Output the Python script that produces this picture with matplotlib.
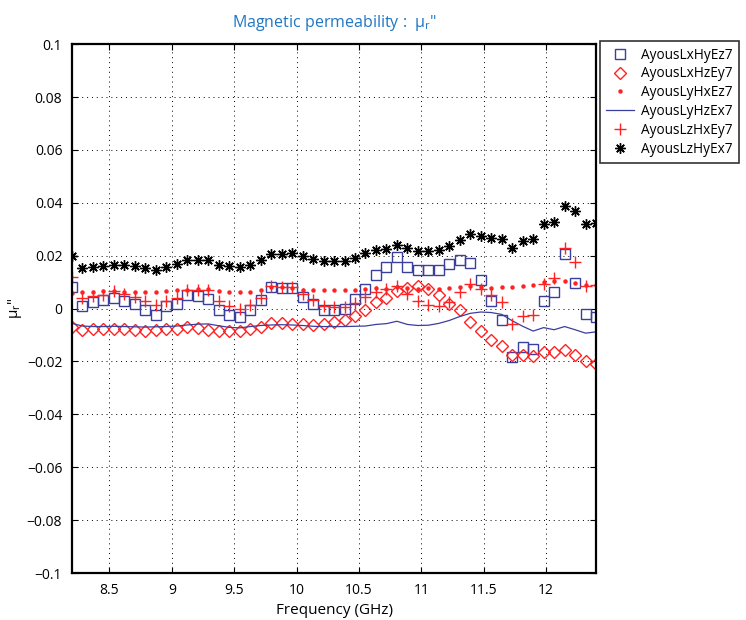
import matplotlib
matplotlib.use("Agg")
import matplotlib.pyplot as plt

freq = [8.2, 8.284, 8.368, 8.452, 8.536, 8.62, 8.704, 8.788, 8.872, 8.956, 9.04, 9.124,
        9.208, 9.292, 9.376, 9.46, 9.544, 9.628, 9.712, 9.796, 9.88, 9.964, 10.048, 10.132,
        10.216, 10.3, 10.384, 10.468, 10.552, 10.636, 10.72, 10.804, 10.888, 10.972, 11.056,
        11.14, 11.224, 11.308, 11.392, 11.476, 11.56, 11.644, 11.728, 11.812, 11.896, 11.98,
        12.064, 12.148, 12.232, 12.316, 12.4]

lxhyez = [0.0081, 0.001, 0.0024, 0.0034, 0.004, 0.003, 0.0016, -0.0005, -0.0023, 0.0008,
          0.0018, 0.0052, 0.0047, 0.0037, -0.0004, -0.0023, -0.0033, -0.0004, 0.0034, 0.0083,
          0.0078, 0.0078, 0.0043, 0.0018, -0.0004, -0.0005, -0.0003, 0.0035, 0.0073, 0.0126,
          0.0157, 0.0194, 0.0159, 0.0147, 0.0147, 0.0147, 0.0169, 0.0183, 0.0174, 0.0107,
          0.0028, -0.0043, -0.0184, -0.0144, -0.0152, 0.0028, 0.0062, 0.0205, 0.0097, -0.002,
          -0.003]

lxhzey = [-0.0071, -0.0082, -0.0079, -0.0076, -0.0078, -0.0079, -0.0081, -0.0083, -0.008,
          -0.0079, -0.0076, -0.0068, -0.0074, -0.008, -0.0085, -0.0083, -0.0083, -0.0076,
          -0.0068, -0.0055, -0.0055, -0.0057, -0.006, -0.0062, -0.0058, -0.0051, -0.0045,
          -0.0027, -0.0005, 0.0023, 0.004, 0.0068, 0.0076, 0.0086, 0.0073, 0.0053, 0.0019,
          -0.0007, -0.0052, -0.0085, -0.0118, -0.0143, -0.0175, -0.0174, -0.018, -0.0163,
          -0.0165, -0.0157, -0.0175, -0.0197, -0.021]

lyhxez = [0.006, 0.0062, 0.0064, 0.0066, 0.0068, 0.0064, 0.0064, 0.0061, 0.0061, 0.0066,
          0.0071, 0.0072, 0.0073, 0.0073, 0.0068, 0.0062, 0.0062, 0.0064, 0.0071, 0.0083,
          0.008, 0.0078, 0.0072, 0.0072, 0.0069, 0.0069, 0.0069, 0.0072, 0.0074, 0.0078,
          0.0075, 0.0083, 0.0078, 0.0073, 0.0077, 0.0075, 0.0076, 0.008, 0.0085, 0.0082,
          0.0079, 0.0083, 0.0083, 0.0087, 0.009, 0.0099, 0.0104, 0.0106, 0.0095, 0.0088,
          0.009]

lyhzex = [-0.0056, -0.0066, -0.0068, -0.0068, -0.0067, -0.0068, -0.0069, -0.007, -0.0069,
          -0.0068, -0.0066, -0.0062, -0.0059, -0.0058, -0.0065, -0.0071, -0.0073, -0.0068,
          -0.0064, -0.0062, -0.0061, -0.0062, -0.0064, -0.0067, -0.0068, -0.0068, -0.0068,
          -0.0067, -0.0066, -0.006, -0.0057, -0.0048, -0.006, -0.0064, -0.0063, -0.0056,
          -0.0045, -0.003, -0.0018, -0.0013, -0.0015, -0.0022, -0.0046, -0.0067, -0.0085,
          -0.0072, -0.008, -0.0068, -0.008, -0.0093, -0.0088]

lzhxey = [0.0119, 0.004, 0.0049, 0.0052, 0.0066, 0.0056, 0.0045, 0.0028, 0.0015, 0.003,
          0.004, 0.0071, 0.0071, 0.007, 0.0028, 0.001, 0.0, 0.0013, 0.004, 0.0085, 0.0083,
          0.0082, 0.0056, 0.0033, 0.0011, 0.0007, 0.0005, 0.002, 0.0043, 0.0062, 0.0074,
          0.0087, 0.0056, 0.0028, 0.0015, 0.0011, 0.0025, 0.0064, 0.0093, 0.0075, 0.005,
          0.0025, -0.006, -0.0027, -0.0023, 0.0093, 0.0114, 0.0228, 0.0175, 0.0085, 0.0089]

lzhyex = [0.0197, 0.0154, 0.0159, 0.016, 0.0164, 0.0164, 0.016, 0.0153, 0.0144, 0.0158,
          0.0168, 0.0182, 0.0182, 0.0182, 0.0163, 0.016, 0.0157, 0.0165, 0.0182, 0.0208,
          0.0208, 0.0212, 0.0197, 0.0186, 0.018, 0.018, 0.0179, 0.0192, 0.0212, 0.0223,
          0.0226, 0.0241, 0.0228, 0.0218, 0.0218, 0.0221, 0.0235, 0.0258, 0.0283, 0.0273,
          0.0266, 0.0264, 0.023, 0.0255, 0.0263, 0.032, 0.0327, 0.0389, 0.0369, 0.0318,
          0.0324]

labels = ["AyousLxHyEz7", "AyousLxHzEy7", "AyousLyHxEz7", "AyousLyHzEx7",
          "AyousLzHxEy7", "AyousLzHyEx7"]
xticks = [8.5, 9, 9.5, 10, 10.5, 11, 11.5, 12]
xticklabels = ["8.5", "9", "9.5", "10", "10.5", "11", "11.5", "12"]
yticks = [-0.1, -0.08, -0.06, -0.04, -0.02, 0, 0.02, 0.04, 0.06, 0.08, 0.1]
yticklabels = ["\u22120.1", "\u22120.08", "\u22120.06", "\u22120.04", "\u22120.02", "0",
               "0.02", "0.04", "0.06", "0.08", "0.1"]

plt.rcParams['font.family'] = ['Open Sans', 'DejaVu Sans']
plt.rcParams['mathtext.default'] = 'regular'

BLUE = "#3a3f9e"
RED = "#ff2222"

fig = plt.figure(figsize=(7.46, 6.2), dpi=100)
ax = fig.add_axes([0.0965, 0.0758, 0.7025, 0.853])

ax.plot(freq, lxhyez, linestyle='none', marker='s', markersize=6.5, markerfacecolor='none',
        markeredgecolor=BLUE, markeredgewidth=1.0, label=labels[0])
ax.plot(freq, lxhzey, linestyle='none', marker='D', markersize=6.5, markerfacecolor='none',
        markeredgecolor=RED, markeredgewidth=1.0, label=labels[1])
ax.plot(freq, lyhxez, linestyle='none', marker='o', markersize=2.2, color=RED,
        label=labels[2])
ax.plot(freq, lyhzex, linestyle='-', color=BLUE, linewidth=0.9, label=labels[3])
ax.plot(freq, lzhxey, linestyle='none', marker='+', markersize=9, color=RED,
        markeredgewidth=1.0, label=labels[4])
ax.plot(freq, lzhyex, linestyle='none', marker=(8, 2, 0), markersize=7.5, color='black',
        markeredgewidth=1.0, label=labels[5])

ax.set_xlim(8.2, 12.4)
ax.set_ylim(-0.1, 0.1)
ax.set_xticks(xticks)
ax.set_xticklabels(xticklabels)
ax.set_yticks(yticks)
ax.set_yticklabels(yticklabels)
ax.tick_params(direction='in', top=True, right=True, labelsize=10, length=4, width=0.8,
               pad=7)
ax.grid(True, linestyle=(0, (1, 4)), color='black', linewidth=0.7)
for s in ax.spines.values():
    s.set_linewidth(1.6)

ax.set_xlabel("Frequency (GHz)", fontsize=11, labelpad=4)
ax.set_ylabel("\u03bc$_{r}$\"", fontsize=11)
ax.yaxis.set_label_coords(-0.092, 0.5)
ax.set_title("Magnetic permeability :  \u03bc$_{r}$\"", fontsize=11.5, color="#1f77c4",
             pad=12)

leg = ax.legend(loc='upper left', bbox_to_anchor=(1.008, 1.005), fontsize=9.8,
                frameon=True, fancybox=False, edgecolor='black', borderpad=0.45,
                labelspacing=0.28, handlelength=2.0, handletextpad=0.55, borderaxespad=0)
leg.get_frame().set_linewidth(1.2)

fig.savefig("out.png", dpi=100)
